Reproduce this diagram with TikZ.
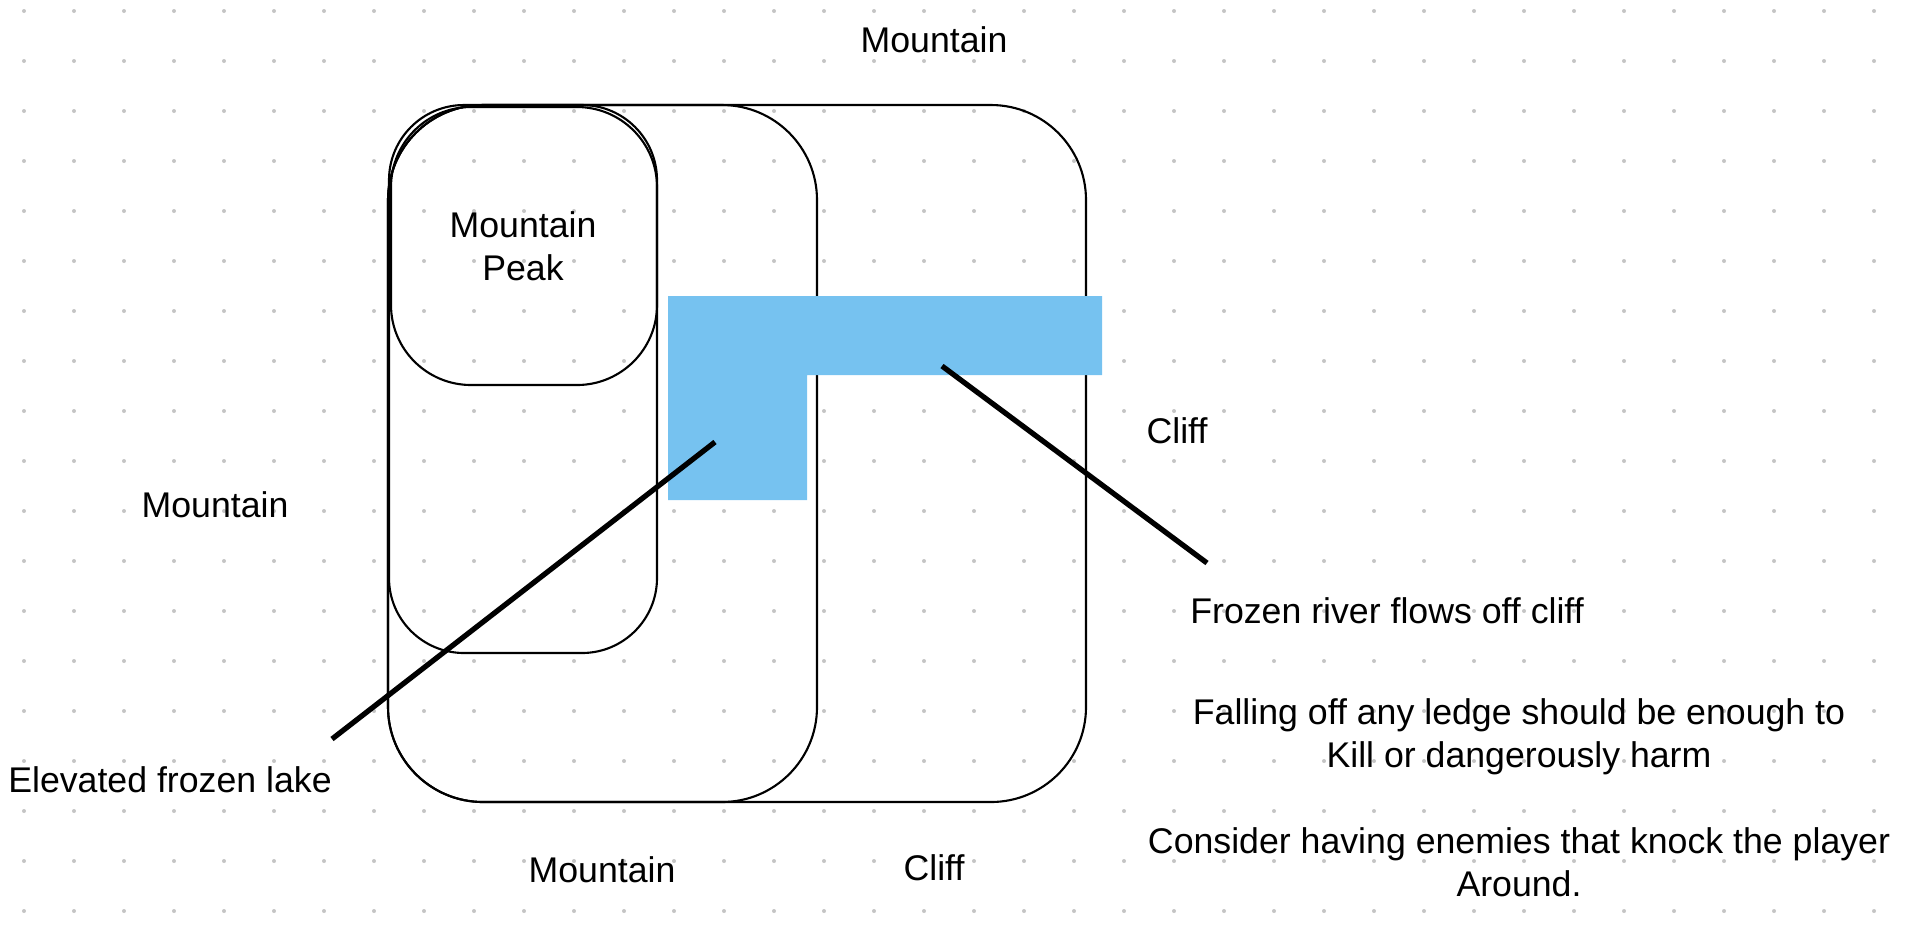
\documentclass[tikz,border=0pt]{standalone}
\usepackage{fontspec}
\setmainfont{Liberation Sans}
\usepackage{tikz}
\definecolor{dotgray}{RGB}{196, 196, 196}
\definecolor{riverblue}{RGB}{118, 194, 240}
\tikzset{
    area/.style={draw=black, line width=0.6pt},
    pointer/.style={draw=black, line width=1.5pt},
    label/.style={font=\fontsize{10.15pt}{12.3pt}\selectfont, align=center, inner sep=0pt}
}

\begin{document}
\begin{tikzpicture}[x=0.01cm, y=-0.01cm]
        \useasboundingbox (0, 0) rectangle (1916, 929);
        % Punktraster
        \foreach \i in {0,...,37}
            \foreach \j in {0,...,18}
                \fill[dotgray] (24+50*\i, 11+50*\j) circle (0.02cm);

        % Klippe (aussen) und Berg
        \draw[area, rounded corners=0.95cm] (388, 105) rectangle (1086, 802);
        \draw[area, rounded corners=0.95cm] (388, 105) rectangle (817, 802);

        % See und Gipfel
        \draw[area, rounded corners=0.75cm] (389, 105) rectangle (657, 653);
        \draw[area, rounded corners=0.8cm] (391, 107) rectangle (657, 385);

        % Gefrorener Fluss
        \fill[riverblue] (668, 296) -- (1102, 296) -- (1102, 375) -- (807, 375) -- (807, 500) -- (668, 500) -- cycle;

        % Beschriftungen
        \node[label] (topmount) at (934, 40) {Mountain};
        \node[label] (peak) at (523, 246) {Mountain\\Peak};
        \node[label] (leftmount) at (215, 505) {Mountain};
        \node[label] (rightcliff) at (1177, 431) {Cliff};
        \node[label] (river) at (1387, 611) {Frozen river flows off cliff};
        \node[label] (falling) at (1519, 737) {Falling off any ledge should be enough to\\Kill or dangerously harm};
        \node[label] (enemies) at (1519, 862) {Consider having enemies that knock the player\\Around.};
        \node[label] (lake) at (170, 780) {Elevated frozen lake};
        \node[label] (botmount) at (602, 870) {Mountain};
        \node[label] (botcliff) at (934, 868) {Cliff};

        % Zeiger
        \coordinate (lakeend) at (332, 739);
        \coordinate (laketip) at (715, 442);
        \coordinate (riverend) at (1207, 563);
        \coordinate (rivertip) at (942, 366);
        \draw[pointer] (lakeend) -- (laketip);
        \draw[pointer] (riverend) -- (rivertip);

    \end{tikzpicture}
\end{document}
